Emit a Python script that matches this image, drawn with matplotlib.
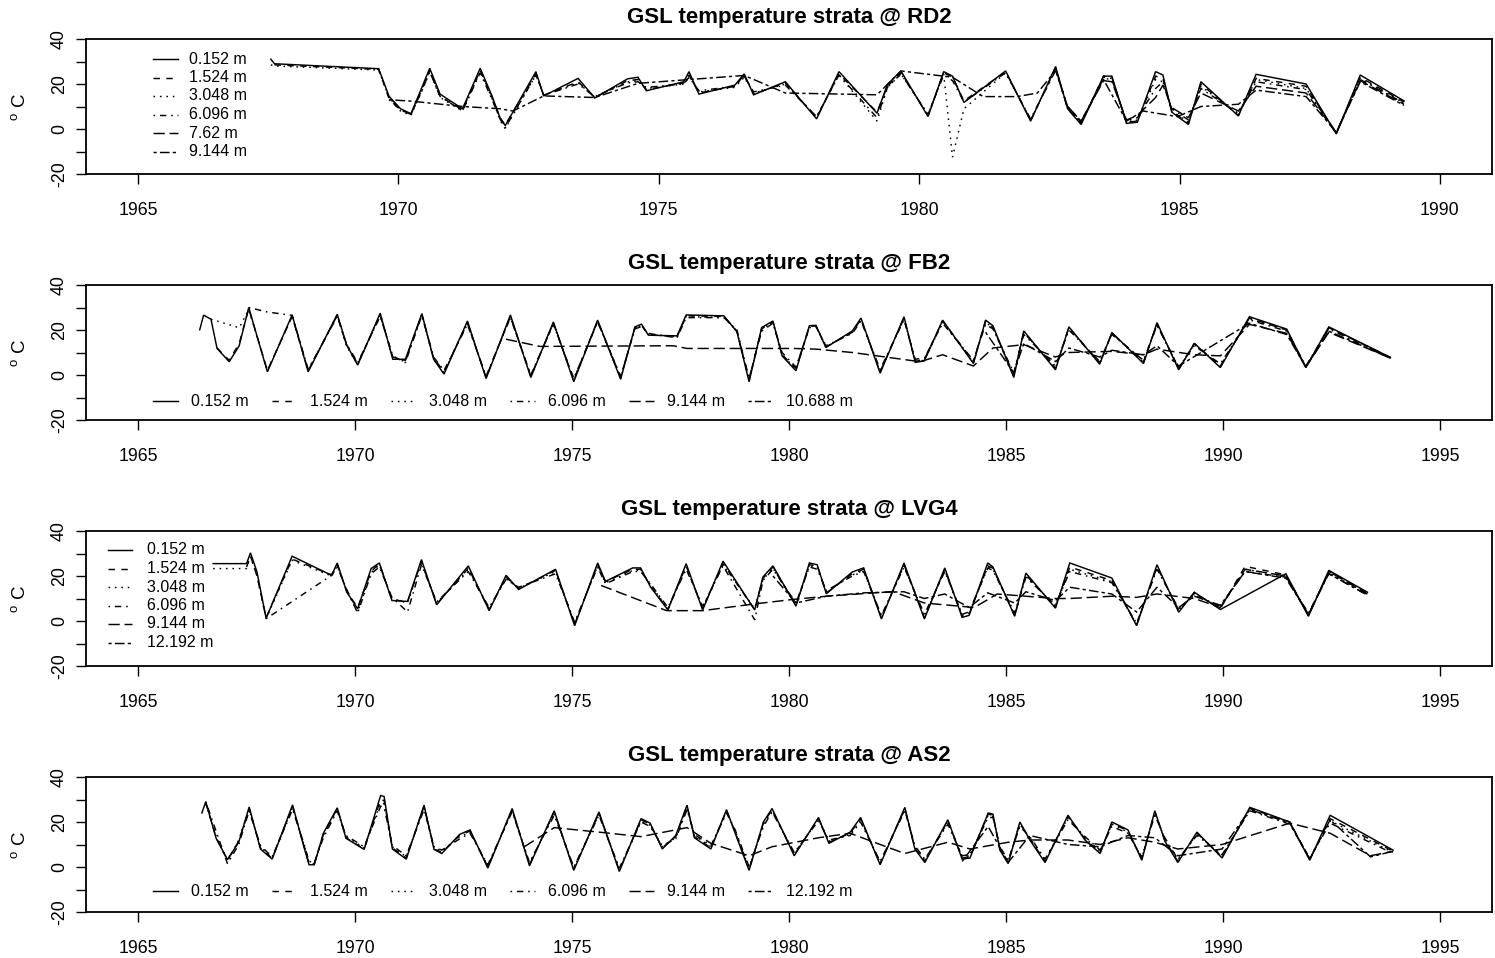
import numpy as np
import matplotlib
matplotlib.use("Agg")
import matplotlib.pyplot as plt
from matplotlib.lines import Line2D

nan = np.nan

# ---------------- RD2 ----------------
RD2_DATES = [1967.55, 1967.62, 1969.62, 1969.82, 1970.04, 1970.24, 1970.45, 1970.60, 1970.80, 1971.23,
             1971.57, 1971.80, 1971.95, 1972.05, 1972.64, 1972.79, 1973.45, 1973.77, 1974.40, 1974.60,
             1974.76, 1975.48, 1975.58, 1975.77, 1976.46, 1976.64, 1976.82, 1977.43, 1978.03, 1978.46,
             1979.19, 1979.39, 1979.65, 1980.17, 1980.47, 1980.64, 1980.86, 1981.66, 1982.14, 1982.62,
             1982.85, 1983.11, 1983.54, 1983.70, 1983.98, 1984.19, 1984.54, 1984.68, 1984.85, 1985.17,
             1985.41, 1986.13, 1986.47, 1987.43, 1988.01, 1988.47, 1989.31]
RD2_T0152 = [31.0, 29.0, 26.8, 14.5, 9.0, 6.8, 18.5, 27.0, 15.5, 9.0,
             27.0, 14.5, 5.0, 1.5, 25.5, 14.7, 22.5, 13.8, 22.3, 23.0,
             17.0, 21.0, 25.5, 15.5, 19.5, 24.5, 15.2, 21.0, 4.5, 25.5,
             7.0, 19.8, 25.8, 5.5, 25.5, 23.5, 11.8, 25.8, 3.5, 27.8,
             9.0, 2.0, 23.5, 23.5, 2.5, 3.0, 25.5, 24.0, 7.5, 2.0,
             21.0, 5.8, 24.3, 20.0, -2.2, 24.0, 12.5]
RD2_T1524 = [nan, 28.5, 26.5, 13.5, 8.5, 6.5, 17.5, 26.0, 14.5, 8.5,
             26.0, 14.0, 5.0, 1.8, 24.5, 15.0, 21.0, 14.0, 21.5, 22.0,
             17.5, 20.5, 24.0, 16.0, 19.0, 24.0, 15.5, 20.5, 5.0, 24.5,
             7.5, 19.0, 25.0, 6.0, 25.0, 23.0, 12.5, 25.5, 3.8, 27.0,
             9.0, 2.5, 23.5, 23.0, 3.0, 3.5, 23.5, 22.5, 8.0, 2.5,
             20.0, 6.0, 22.5, 19.0, -2.0, 23.0, 12.0]
RD2_T3048 = [28.5, 28.0, 26.2, 14.0, 8.0, 6.0, 17.0, 25.5, 14.0, 8.0,
             25.5, 13.5, 4.0, 0.2, 24.0, 15.0, 20.5, 14.2, 21.0, 21.5,
             18.0, 20.0, 23.5, 16.5, 18.5, 23.0, 16.0, 20.0, 5.5, 24.0,
             3.5, 18.5, 24.5, 6.5, 24.5, -12.5, 9.0, 25.0, 4.0, 26.5,
             9.5, 2.5, 23.0, 22.5, 3.0, 4.0, 22.0, 21.0, 8.0, 3.0,
             19.0, 6.5, 22.0, 18.0, -1.8, 22.5, 11.5]
RD2_T6096 = [nan, nan, nan, 13.0, 8.5, 6.5, 17.0, 25.5, 14.5, 8.0,
             25.0, 13.0, 4.5, 0.5, 24.0, 15.0, 20.0, 14.5, 20.5, 21.0,
             18.5, 20.0, 23.0, 17.0, 19.0, 23.5, 16.5, 19.5, 5.5, 24.0,
             5.0, 18.5, 24.5, 6.5, 24.0, 21.5, 12.0, 25.0, 4.5, 26.0,
             10.0, 3.5, 22.5, 22.0, 3.5, 5.0, 18.0, 21.0, 9.0, 4.0,
             18.0, 7.0, 21.0, 17.5, -1.5, 22.0, 11.5]
RD2_D762 = [1982.85, 1983.11, 1983.54, 1983.70, 1983.98, 1984.19, 1984.54, 1984.68, 1984.85,
            1985.17, 1985.41, 1986.13, 1986.47, 1987.43, 1988.01, 1988.47, 1989.31]
RD2_T762 = [10.0, 3.5, 21.5, 21.0, 4.0, 6.0, 14.0, 19.5, 9.5,
            5.0, 16.0, 8.0, 19.0, 16.0, -1.5, 21.5, 11.0]
RD2_D9144 = [1969.82, 1970.24, 1971.23, 1971.95, 1972.20, 1972.79, 1973.77, 1974.60, 1975.48,
             1976.64, 1977.43, 1979.19, 1979.65, 1980.64, 1981.23, 1981.88, 1982.27, 1982.62,
             1982.85, 1983.11, 1983.54, 1983.98, 1984.30, 1984.96, 1985.41, 1986.13, 1986.47,
             1987.43, 1988.01, 1988.47, 1989.31]
RD2_T9144 = [13.0, 12.4, 10.0, 9.0, 8.0, 14.7, 14.0, 20.3, 21.8,
             23.8, 16.0, 15.2, 25.8, 23.0, 14.4, 14.4, 16.0, 26.0,
             10.0, 3.0, 22.0, 3.5, 8.0, 5.5, 10.0, 11.0, 17.3,
             14.4, -1.5, 21.0, 10.5]

# ---------------- FB2 ----------------
FB2_DATES = [1966.42, 1966.51, 1966.68, 1966.82, 1967.10, 1967.33, 1967.55, 1967.98, 1968.55, 1968.92,
             1969.59, 1969.80, 1970.06, 1970.58, 1970.87, 1971.16, 1971.54, 1971.81, 1972.05, 1972.59,
             1973.02, 1973.58, 1974.05, 1974.57, 1975.04, 1975.59, 1976.12, 1976.45, 1976.60, 1976.76,
             1977.42, 1977.63, 1978.50, 1978.80, 1979.08, 1979.37, 1979.63, 1979.84, 1980.16, 1980.47,
             1980.62, 1980.85, 1981.46, 1981.66, 1982.10, 1982.65, 1982.91, 1983.12, 1983.54, 1984.25,
             1984.53, 1984.70, 1985.18, 1985.41, 1986.14, 1986.45, 1987.16, 1987.44, 1988.17, 1988.48,
             1988.98, 1989.34, 1989.94, 1990.61, 1991.47, 1991.91, 1992.44, 1993.86]
FB2_T0152 = [20.1, 26.6, 24.8, 11.8, 5.9, 13.0, 30.0, 1.4, 26.7, 1.4,
             27.0, 13.7, 4.4, 27.5, 7.0, 7.0, 27.3, 7.0, 0.4, 24.0,
             -1.6, 26.7, -1.1, 23.6, -3.0, 24.4, -1.9, 21.4, 22.6, 17.7,
             17.4, 26.7, 26.3, 19.2, -3.0, 21.1, 24.0, 8.5, 1.9, 21.9,
             22.1, 12.2, 19.6, 25.3, 0.8, 25.9, 5.6, 6.3, 24.4, 5.1,
             24.4, 21.9, -1.1, 19.6, 2.3, 21.4, 4.8, 18.9, 5.1, 23.3,
             2.3, 14.1, 3.3, 25.9, 20.4, 3.3, 21.4, 7.8]
FB2_T1524 = [nan, nan, nan, 12.0, 6.5, 14.0, 29.5, 2.0, 26.0, 2.0,
             26.5, 13.5, 5.0, 26.5, 8.0, 6.5, 26.8, 7.5, 1.5, 23.0,
             -1.0, 26.0, -0.5, 23.0, -2.0, 24.0, -1.0, 21.0, 22.0, 18.0,
             17.0, 26.3, 26.0, 19.5, -2.0, 20.5, 23.5, 9.0, 3.0, 21.5,
             21.8, 12.5, 19.0, 24.8, 1.5, 25.3, 6.0, 7.0, 24.0, 6.0,
             24.0, 21.0, 0.0, 19.0, 3.0, 21.0, 5.5, 18.5, 6.0, 22.5,
             3.0, 14.0, 4.0, 25.3, 20.0, 3.5, 21.0, 7.8]
FB2_T3048 = [nan, nan, 24.8, nan, nan, 21.0, 29.0, 2.0, 26.0, 2.0,
             26.5, 13.0, 4.5, 27.0, 7.5, 6.0, 27.0, 7.0, 1.0, 23.5,
             -1.0, 26.0, -0.5, 23.0, -2.5, 24.0, -1.5, 21.0, 22.0, 18.0,
             17.0, 26.0, 25.5, 19.5, -2.5, 20.5, 23.5, 9.0, 2.5, 21.5,
             22.0, 12.5, 19.0, 24.5, 1.5, 25.0, 6.0, 6.5, 23.5, 5.5,
             23.5, 21.0, -0.5, 19.0, 3.0, 21.0, 5.0, 18.5, 5.5, 22.5,
             3.0, 13.5, 4.0, 25.0, 20.0, 3.5, 21.0, 7.8]
FB2_T6096 = [nan, nan, nan, nan, nan, nan, 30.0, 28.0, 26.5, 2.5,
             26.0, 14.0, 5.5, 26.0, 8.5, 5.5, 26.5, 8.0, 2.0, 22.5,
             -0.5, 25.5, 0.0, 22.5, -1.5, 23.5, -0.5, 20.5, 21.5, 18.5,
             16.5, 25.5, 25.5, 20.0, -1.5, 19.5, 23.0, 10.0, 3.5, 21.0,
             21.5, 13.0, 18.5, 24.0, 2.5, 24.5, 7.0, 7.5, 23.0, 6.5,
             22.5, 20.5, 1.0, 18.0, 4.0, 20.0, 6.0, 18.0, 6.5, 22.0,
             3.5, 13.0, 5.0, 24.5, 19.5, 4.0, 20.5, 7.5]
FB2_D9144 = [1973.48, 1974.26, 1977.33, 1977.65, 1980.10, 1980.62, 1981.46, 1983.02, 1983.54,
             1984.25, 1984.70, 1985.41, 1986.14, 1986.45, 1987.44, 1988.17, 1988.48, 1989.34,
             1989.94, 1990.61, 1991.47, 1991.91, 1992.44, 1993.86]
FB2_T9144 = [15.9, 12.7, 13.0, 11.8, 11.8, 11.5, 10.0, 5.9, 9.0,
             4.0, 12.0, 13.5, 8.0, 10.0, 10.5, 9.0, 11.5, 9.0,
             8.5, 22.5, 18.5, 3.5, 19.0, 7.5]
FB2_D10688 = [1984.53, 1985.18, 1985.41, 1986.14, 1986.45, 1987.16, 1987.44, 1988.17,
              1988.48, 1988.98, 1990.61, 1991.47, 1991.91, 1992.44, 1993.86]
FB2_T10688 = [19.0, 1.0, 14.0, 6.0, 12.0, 8.0, 11.0, 9.0,
              13.0, 4.0, 23.0, 18.0, 3.5, 19.5, 7.5]

# ---------------- LVG4 ----------------
LVG4_DATES = [1966.73, 1967.50, 1967.59, 1967.74, 1967.95, 1968.55, 1969.46, 1969.59, 1969.81, 1970.06,
              1970.37, 1970.56, 1970.85, 1971.21, 1971.53, 1971.88, 1972.61, 1973.09, 1973.48, 1973.77,
              1974.62, 1975.06, 1975.59, 1975.77, 1976.40, 1976.58, 1976.81, 1977.21, 1977.63, 1978.01,
              1978.48, 1979.21, 1979.40, 1979.63, 1980.16, 1980.47, 1980.65, 1980.86, 1981.46, 1981.72,
              1982.13, 1982.65, 1983.12, 1983.59, 1983.99, 1984.15, 1984.58, 1984.70, 1985.20, 1985.46,
              1986.14, 1986.47, 1987.44, 1988.01, 1988.48, 1988.98, 1989.34, 1989.94, 1990.51, 1991.45,
              1991.97, 1992.44, 1993.33]
LVG4_T0152 = [25.5, 25.5, 30.3, 21.8, 1.2, 28.8, 20.3, 25.8, 12.8, 5.4,
              23.3, 25.8, 9.1, 8.7, 27.3, 7.2, 24.5, 4.6, 20.3, 14.0,
              23.0, -2.1, 25.8, 17.6, 23.6, 23.6, 15.1, 4.9, 25.5, 4.9,
              26.6, 4.9, 19.6, 24.5, 6.6, 25.8, 25.0, 12.1, 21.8, 23.6,
              0.9, 25.8, 0.9, 23.6, 1.6, 2.5, 25.8, 24.0, 2.1, 21.3,
              5.7, 25.8, 19.1, -2.1, 25.0, 3.9, 12.8, 5.1, nan, 21.0,
              2.1, 22.5, 12.8]
LVG4_T1524 = [nan, 24.0, 29.0, 20.0, 1.5, 27.5, 20.5, 25.0, 13.0, 6.0,
              22.0, 25.5, 9.5, 8.5, 26.5, 7.5, 23.5, 5.0, 19.5, 14.5,
              22.5, -1.5, 25.0, 17.5, 23.0, 23.0, 15.5, 5.0, 24.5, 5.5,
              25.5, 5.0, 19.0, 24.0, 7.0, 25.0, 24.5, 12.5, 21.0, 23.0,
              1.5, 25.0, 1.5, 23.0, 2.0, 3.0, 24.5, 23.5, 2.5, 20.5,
              6.0, 24.0, 18.0, -1.8, 24.0, 4.5, 12.5, 5.5, 24.3, 20.5,
              2.5, 22.0, 12.5]
LVG4_T3048 = [23.3, 23.3, 28.5, 20.0, 1.0, 27.0, 20.0, 24.5, 13.5, 4.0,
              21.5, 25.0, 10.0, 8.0, 26.0, 8.0, 23.0, 5.5, 19.0, 14.5,
              22.0, -1.0, 24.5, 17.0, 22.5, 22.5, 16.0, 5.5, 24.0, 6.0,
              25.0, 5.5, 18.5, 23.5, 7.5, 24.5, 24.0, 13.0, 20.5, 22.5,
              2.0, 24.5, 2.0, 22.5, 2.5, 3.5, 24.0, 23.0, 3.0, 20.0,
              6.5, 23.0, 17.5, -1.5, 23.5, 5.0, 12.0, 6.0, 23.0, 20.0,
              3.0, 21.5, 12.0]
LVG4_T6096 = [nan, nan, nan, nan, 1.0, nan, 20.3, 24.0, 14.0, 3.5,
              21.0, 24.0, 10.5, 4.0, 25.0, 8.5, 22.0, 6.0, 18.5, 15.0,
              21.0, -0.5, 24.0, 16.5, 22.0, 22.0, 16.5, 6.0, 23.0, 6.5,
              24.5, 0.5, 18.0, 23.0, 8.0, 24.0, 23.0, 13.5, 20.0, 22.0,
              2.5, 24.0, 3.0, 22.0, 3.0, 4.0, 23.5, 22.5, 3.5, 19.5,
              7.0, 22.0, 17.0, -1.0, 23.0, 5.5, 11.5, 6.5, 22.0, 19.5,
              3.5, 21.0, 11.5]
LVG4_D9144 = [1975.67, 1977.18, 1978.01, 1979.21, 1980.10, 1980.86, 1982.39, 1983.12, 1984.27,
              1984.80, 1985.46, 1986.14, 1986.47, 1987.44, 1988.01, 1988.48, 1989.34, 1989.94,
              1990.51, 1991.45, 1991.97, 1992.44, 1993.33]
LVG4_T9144 = [15.8, 4.6, 4.6, 7.6, 9.6, 11.0, 13.1, 8.0, 6.0,
              12.0, 11.0, 10.0, 10.0, 11.0, 10.5, 12.0, 10.0, 6.0,
              23.0, 20.0, 2.5, 22.0, 12.0]
LVG4_D12192 = [1979.63, 1980.16, 1980.86, 1981.72, 1982.65, 1983.12, 1983.59, 1984.15, 1984.58,
               1985.20, 1985.46, 1986.14, 1986.47, 1987.44, 1988.01, 1988.48, 1988.98, 1989.34,
               1989.94, 1990.51, 1991.45, 1991.97, 1992.44, 1993.33]
LVG4_T12192 = [20.0, 8.0, 11.0, 12.5, 13.0, 10.0, 12.0, 6.0, 12.5,
               8.0, 13.0, 9.0, 15.0, 12.0, 4.0, 15.0, 6.0, 11.0,
               7.0, 22.0, 19.0, 3.0, 21.0, 11.5]

# ---------------- AS2 ----------------
AS2_DATES = [1966.47, 1966.56, 1966.80, 1967.06, 1967.32, 1967.56, 1967.82, 1968.09, 1968.56, 1968.82,
             1968.94, 1969.06, 1969.27, 1969.59, 1969.79, 1970.21, 1970.59, 1970.67, 1970.86, 1971.18,
             1971.59, 1971.82, 1972.00, 1972.41, 1972.65, 1973.06, 1973.62, 1974.02, 1974.59, 1975.04,
             1975.62, 1976.09, 1976.59, 1976.80, 1977.08, 1977.39, 1977.65, 1977.82, 1978.20, 1978.56,
             1978.76, 1979.08, 1979.41, 1979.61, 1980.12, 1980.68, 1980.92, 1981.41, 1981.65, 1982.10,
             1982.67, 1982.90, 1983.13, 1983.66, 1983.99, 1984.17, 1984.59, 1984.70, 1984.86, 1985.05,
             1985.32, 1985.55, 1985.90, 1986.43, 1986.82, 1987.17, 1987.44, 1987.81, 1988.13, 1988.43,
             1988.66, 1988.96, 1989.40, 1989.98, 1990.62, 1991.54, 1992.00, 1992.47, 1993.92]
AS2_T0152 = [24.0, 29.0, 12.7, 3.3, 11.0, 26.7, 8.0, 3.5, 27.6, 9.0,
             1.0, 1.0, 15.0, 26.3, 12.8, 7.8, 31.8, 31.3, 8.0, 3.5,
             27.5, 7.8, 6.0, 14.5, 16.5, -0.5, 26.0, 0.5, 25.0, -1.5,
             24.5, -2.0, 21.5, 19.5, 8.0, 14.0, 27.5, 13.0, 8.0, 25.5,
             15.0, -1.5, 20.0, 26.0, 5.0, 22.0, 10.5, 15.5, 22.0, 1.0,
             26.5, 8.0, 2.0, 21.0, 3.5, 4.0, 24.0, 23.5, 7.5, 1.5,
             20.0, 12.0, 2.0, 23.0, 12.0, 6.0, 20.0, 16.5, 3.0, 25.0,
             11.5, 2.0, 15.5, 4.0, 26.5, 20.0, 3.0, 23.0, 7.5]
AS2_T1524 = [nan, 28.5, 13.0, 3.0, 11.5, 26.0, 8.5, 3.8, 27.0, 9.5,
             1.5, 1.3, 14.5, 26.0, 13.0, 8.0, 30.0, 29.5, 8.5, 4.0,
             27.0, 8.0, 6.5, 14.0, 16.0, 0.0, 25.5, 1.0, 24.5, -1.0,
             24.0, -1.5, 21.0, 19.0, 8.5, 13.5, 27.0, 13.5, 8.5, 25.0,
             15.5, -1.0, 19.5, 25.5, 5.5, 21.5, 11.0, 15.0, 21.5, 1.5,
             26.0, 8.5, 2.5, 20.5, 4.0, 4.5, 23.5, 23.0, 8.0, 2.0,
             19.5, 12.5, 2.5, 22.5, 12.5, 6.5, 19.5, 16.0, 3.5, 24.5,
             12.0, 2.5, 15.0, 4.5, 26.0, 20.0, 3.5, 21.5, 7.0]
AS2_T3048 = [nan, 28.0, 13.5, 2.5, 12.0, 25.5, 9.0, 4.0, 26.5, 10.0,
             2.0, 1.5, 14.0, 25.5, 13.5, 8.5, 28.5, 28.0, 9.0, 4.5,
             26.5, 8.5, 7.0, 13.5, 15.5, 0.5, 25.0, 1.5, 24.0, -0.5,
             23.5, -1.0, 20.5, 18.5, 9.0, 13.0, 26.5, 14.0, 9.0, 24.5,
             16.0, -0.5, 19.0, 25.0, 6.0, 21.0, 11.5, 14.5, 21.0, 2.0,
             25.5, 9.0, 3.0, 20.0, 4.5, 5.0, 23.0, 22.5, 8.5, 2.5,
             19.0, 13.0, 3.0, 22.0, 13.0, 7.0, 19.0, 15.5, 4.0, 24.0,
             12.5, 3.0, 14.5, 5.0, 25.5, 19.5, 3.5, 20.5, 6.5]
AS2_T6096 = [nan, 29.0, nan, 1.5, 10.0, 25.0, 9.5, 4.5, 25.5, 10.5,
             2.5, 2.0, 13.0, 25.0, 14.0, 9.0, 27.0, 26.5, 9.5, 5.0,
             25.5, 9.0, 7.5, 12.5, 15.0, 1.0, 24.5, 2.0, 23.0, 0.0,
             23.0, -0.5, 20.0, 18.0, 9.5, 12.5, 25.5, 14.5, 9.5, 24.0,
             16.5, 0.0, 18.0, 24.5, 6.5, 20.5, 12.0, 14.0, 20.0, 2.5,
             25.0, 9.5, 3.5, 19.0, 5.0, 5.5, 22.0, 22.0, 9.0, 3.0,
             18.0, 13.5, 3.5, 21.0, 13.5, 7.5, 18.0, 15.0, 4.5, 23.0,
             13.0, 3.5, 14.0, 5.5, 25.0, 19.0, 4.0, 19.5, 6.0]
AS2_D9144 = [1973.90, 1974.59, 1975.62, 1976.59, 1977.65, 1978.20, 1979.08, 1979.61, 1980.68,
             1981.41, 1982.10, 1982.67, 1983.66, 1984.17, 1985.05, 1985.55, 1986.43, 1987.17,
             1987.81, 1988.43, 1988.96, 1989.98, 1991.54, 1992.47, 1993.40, 1993.92]
AS2_T9144 = [9.0, 17.5, 15.5, 13.5, 17.5, 10.5, 5.0, 9.0, 13.0,
             15.0, 10.0, 6.0, 11.0, 8.0, 11.0, 12.0, 12.0, 10.0,
             13.0, 11.0, 8.0, 10.0, 19.5, 15.0, 5.0, 7.0]
AS2_D12192 = [1983.99, 1984.59, 1985.05, 1985.55, 1986.43, 1987.17, 1987.81, 1988.43,
              1988.96, 1989.98, 1990.62, 1991.54, 1992.00, 1992.47, 1993.40, 1993.92]
AS2_T12192 = [2.5, 18.0, 2.0, 14.0, 10.0, 9.0, 14.0, 13.0,
              5.0, 8.0, 25.5, 19.5, 3.5, 21.0, 4.5, 7.0]

# ---------------- drawing ----------------
plt.rcParams["font.family"] = ["Liberation Sans", "DejaVu Sans"]
plt.rcParams["mathtext.fontset"] = "custom"
plt.rcParams["mathtext.rm"] = "Liberation Sans"

W, H = 1495, 958
fig = plt.figure(figsize=(W / 100, H / 100), dpi=100)

DASH_SCALE = 1.1
R_LTY = {
    1: "-",
    2: (0, tuple(v * DASH_SCALE for v in (4, 4))),
    3: (0, tuple(v * DASH_SCALE for v in (1, 3))),
    4: (0, tuple(v * DASH_SCALE for v in (1, 3, 4, 3))),
    5: (0, tuple(v * DASH_SCALE for v in (7, 3))),
    6: (0, tuple(v * DASH_SCALE for v in (2, 2, 6, 2))),
}
LW = 1.05
LEFT, RIGHT, PANEL_H = 86, 1492, 135


def fx(px):
    return px / W


def fy(py):
    return 1 - py / H


def draw_series(ax, dates, vals, lty):
    d = np.asarray(dates, dtype=float)
    v = np.asarray(vals, dtype=float)
    ok = np.isfinite(v)
    ax.plot(d[ok], v[ok], color="black", lw=LW, linestyle=R_LTY[lty],
            solid_joinstyle="miter", dash_joinstyle="miter")


def legend_vertical(x_seg0, x_seg1, x_text, rows, labels):
    for i, (lab, y) in enumerate(zip(labels, rows)):
        fig.add_artist(Line2D([fx(x_seg0), fx(x_seg1)], [fy(y), fy(y)], color="black",
                              lw=LW, linestyle=R_LTY[i + 1], transform=fig.transFigure))
        fig.text(fx(x_text), fy(y), lab, ha="left", va="center", fontsize=11.5)


def legend_horizontal(x_first, step, y, labels):
    for i, lab in enumerate(labels):
        xt = x_first + step * i
        fig.add_artist(Line2D([fx(xt - 38), fx(xt - 13)], [fy(y), fy(y)], color="black",
                              lw=LW, linestyle=R_LTY[i + 1], transform=fig.transFigure))
        fig.text(fx(xt), fy(y), lab, ha="left", va="center", fontsize=11.5)


PANELS = [
    dict(title="GSL temperature strata @ RD2", top=39, xlim=(1964.0, 1991.0),
         xticks=[1965, 1970, 1975, 1980, 1985, 1990],
         series=[(RD2_DATES, RD2_T0152, 1), (RD2_DATES, RD2_T1524, 2), (RD2_DATES, RD2_T3048, 3),
                 (RD2_DATES, RD2_T6096, 4), (RD2_D762, RD2_T762, 5), (RD2_D9144, RD2_T9144, 6)],
         labels=["0.152 m", "1.524 m", "3.048 m", "6.096 m", "7.62 m", "9.144 m"]),
    dict(title="GSL temperature strata @ FB2", top=285, xlim=(1963.8, 1996.2),
         xticks=[1965, 1970, 1975, 1980, 1985, 1990, 1995],
         series=[(FB2_DATES, FB2_T0152, 1), (FB2_DATES, FB2_T1524, 2), (FB2_DATES, FB2_T3048, 3),
                 (FB2_DATES, FB2_T6096, 4), (FB2_D9144, FB2_T9144, 5), (FB2_D10688, FB2_T10688, 6)],
         labels=["0.152 m", "1.524 m", "3.048 m", "6.096 m", "9.144 m", "10.688 m"]),
    dict(title="GSL temperature strata @ LVG4", top=531, xlim=(1963.8, 1996.2),
         xticks=[1965, 1970, 1975, 1980, 1985, 1990, 1995],
         series=[(LVG4_DATES, LVG4_T0152, 1), (LVG4_DATES, LVG4_T1524, 2), (LVG4_DATES, LVG4_T3048, 3),
                 (LVG4_DATES, LVG4_T6096, 4), (LVG4_D9144, LVG4_T9144, 5), (LVG4_D12192, LVG4_T12192, 6)],
         labels=["0.152 m", "1.524 m", "3.048 m", "6.096 m", "9.144 m", "12.192 m"]),
    dict(title="GSL temperature strata @ AS2", top=777, xlim=(1963.8, 1996.2),
         xticks=[1965, 1970, 1975, 1980, 1985, 1990, 1995],
         series=[(AS2_DATES, AS2_T0152, 1), (AS2_DATES, AS2_T1524, 2), (AS2_DATES, AS2_T3048, 3),
                 (AS2_DATES, AS2_T6096, 4), (AS2_D9144, AS2_T9144, 5), (AS2_D12192, AS2_T12192, 6)],
         labels=["0.152 m", "1.524 m", "3.048 m", "6.096 m", "9.144 m", "12.192 m"]),
]

for k, p in enumerate(PANELS):
    top = p["top"]
    ax = fig.add_axes([fx(LEFT), fy(top + PANEL_H), (RIGHT - LEFT) / W, PANEL_H / H])
    for dates, vals, lty in p["series"]:
        draw_series(ax, dates, vals, lty)
    ax.set_xlim(*p["xlim"])
    ax.set_ylim(-20, 40)
    ax.set_xticks(p["xticks"])
    ax.set_xticklabels([str(t) for t in p["xticks"]], fontsize=12.8)
    yt = [-20, -10, 0, 10, 20, 30, 40]
    ax.set_yticks(yt)
    ax.set_yticklabels(["-20", "", "0", "", "20", "", "40"], fontsize=12.8,
                       rotation=90, va="center")
    ax.tick_params(axis="x", length=7.5, width=1.0, pad=12.5, direction="out")
    ax.tick_params(axis="y", length=7.5, width=1.0, pad=5.5, direction="out")
    for s in ax.spines.values():
        s.set_linewidth(1.3)
        s.set_color("black")
    fig.text(fx((LEFT + RIGHT) / 2), fy(top - 21), p["title"], ha="center", va="center",
             fontsize=16, fontweight="bold")
    fig.text(fx(21), fy(top + PANEL_H / 2), r"$^{\mathrm{o}}$ C", ha="center", va="center",
             rotation=90, fontsize=13.5)

# legends
legend_vertical(153, 178, 189, [59, 77.5, 96, 114.5, 133, 151.5], PANELS[0]["labels"])
legend_horizontal(191, 119, 401, PANELS[1]["labels"])
legend_vertical(108, 132, 147, [550, 568.5, 587, 605.5, 624, 642.5], PANELS[2]["labels"])
legend_horizontal(191, 119, 891, PANELS[3]["labels"])

fig.savefig("out.png", dpi=100)
